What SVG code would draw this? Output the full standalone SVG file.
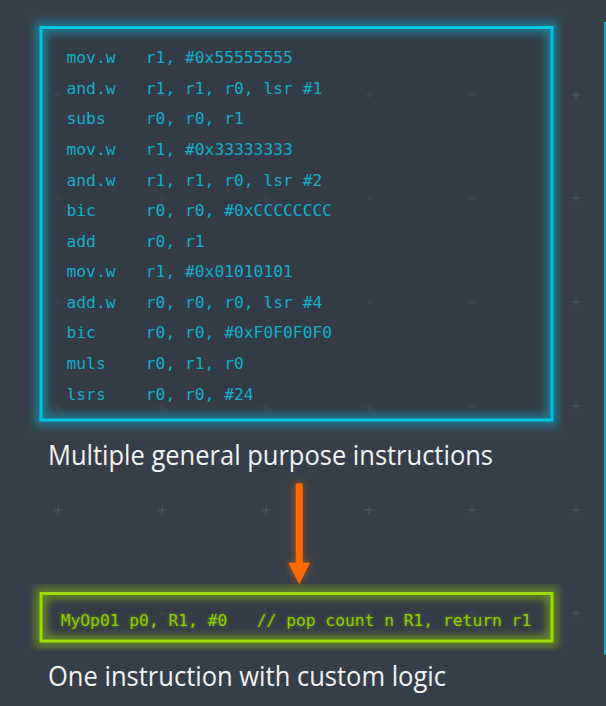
<svg xmlns="http://www.w3.org/2000/svg" width="606" height="706" viewBox="0 0 606 706">
  <defs>
    <filter id="glow" x="-20%" y="-20%" width="140%" height="140%">
      <feGaussianBlur stdDeviation="4"/>
    </filter>
    <filter id="soft" x="-10%" y="-10%" width="120%" height="120%">
      <feGaussianBlur stdDeviation="3"/>
    </filter>
    <filter id="tglow" x="-5%" y="-50%" width="110%" height="200%">
      <feGaussianBlur stdDeviation="1.5"/>
    </filter>
    <path id="plus" d="M-4,0H4M0,-4V4" stroke="#4a545f" stroke-width="1.3" fill="none"/>
  </defs>
  <style>
    .code { font-family: "DejaVu Sans Mono", "Liberation Mono", monospace; font-size: 16.3px; fill: #14aeca; }
    .gcode { font-family: "DejaVu Sans Mono", "Liberation Mono", monospace; font-size: 16.3px; fill: #8ccc00; }
    .cap { font-family: "Open Sans", "Lato", sans-serif; font-size: 27px; fill: #f2f2f2; }
  </style>
  <rect width="606" height="706" fill="#363f49"/>
  <line x1="605" y1="22" x2="605" y2="655" stroke="#12a9c6" stroke-width="2"/>

  <g id="grid">
    <use href="#plus" x="58" y="95"/><use href="#plus" x="162" y="95"/><use href="#plus" x="266" y="95"/><use href="#plus" x="369" y="95"/><use href="#plus" x="472" y="95"/><use href="#plus" x="576" y="95"/>
    <use href="#plus" x="58" y="198"/><use href="#plus" x="162" y="198"/><use href="#plus" x="266" y="198"/><use href="#plus" x="369" y="198"/><use href="#plus" x="472" y="198"/><use href="#plus" x="576" y="198"/>
    <use href="#plus" x="58" y="302"/><use href="#plus" x="162" y="302"/><use href="#plus" x="266" y="302"/><use href="#plus" x="369" y="302"/><use href="#plus" x="472" y="302"/><use href="#plus" x="576" y="302"/>
    <use href="#plus" x="58" y="406"/><use href="#plus" x="162" y="406"/><use href="#plus" x="266" y="406"/><use href="#plus" x="369" y="406"/><use href="#plus" x="472" y="406"/><use href="#plus" x="576" y="406"/>
    <use href="#plus" x="58" y="510"/><use href="#plus" x="162" y="510"/><use href="#plus" x="266" y="510"/><use href="#plus" x="369" y="510"/><use href="#plus" x="472" y="510"/><use href="#plus" x="576" y="510"/>
    <use href="#plus" x="58" y="613"/><use href="#plus" x="162" y="613"/><use href="#plus" x="266" y="613"/><use href="#plus" x="369" y="613"/><use href="#plus" x="472" y="613"/><use href="#plus" x="576" y="613"/>
  </g>

  <g id="general-box">
    <rect x="41" y="27.5" width="511" height="392.5" fill="none" stroke="#00c4e4" stroke-width="12" opacity="0.45" filter="url(#glow)"/>
    <rect x="52" y="38" width="490" height="372" fill="#323a44" opacity="0.6" filter="url(#soft)"/>
    <rect x="41" y="27.5" width="511" height="392.5" fill="none" stroke="#00c4e4" stroke-width="3"/>
    <g class="code">
      <text x="66.5" y="63.3">mov.w</text><text x="145.8" y="63.3">r1, #0x55555555</text>
      <text x="66.5" y="93.9">and.w</text><text x="145.8" y="93.9">r1, r1, r0, lsr #1</text>
      <text x="66.5" y="124.4">subs</text><text x="145.8" y="124.4">r0, r0, r1</text>
      <text x="66.5" y="155">mov.w</text><text x="145.8" y="155">r1, #0x33333333</text>
      <text x="66.5" y="185.6">and.w</text><text x="145.8" y="185.6">r1, r1, r0, lsr #2</text>
      <text x="66.5" y="216.2">bic</text><text x="145.8" y="216.2">r0, r0, #0xCCCCCCCC</text>
      <text x="66.5" y="246.7">add</text><text x="145.8" y="246.7">r0, r1</text>
      <text x="66.5" y="277.3">mov.w</text><text x="145.8" y="277.3">r1, #0x01010101</text>
      <text x="66.5" y="307.9">add.w</text><text x="145.8" y="307.9">r0, r0, r0, lsr #4</text>
      <text x="66.5" y="338.4">bic</text><text x="145.8" y="338.4">r0, r0, #0xF0F0F0F0</text>
      <text x="66.5" y="369">muls</text><text x="145.8" y="369">r0, r1, r0</text>
      <text x="66.5" y="399.6">lsrs</text><text x="145.8" y="399.6">r0, r0, #24</text>
    </g>
  </g>

  <g id="label-general">
    <text class="cap" x="48" y="465" textLength="445" lengthAdjust="spacingAndGlyphs">Multiple general purpose instructions</text>
  </g>

  <g id="connectors">
    <g filter="url(#glow)" opacity="0.55">
      <rect x="295.7" y="483.3" width="7" height="82" fill="#ff6a00"/>
      <polygon points="288.3,562.7 310,562.7 299.2,584.3" fill="#ff6a00"/>
    </g>
    <rect x="295.7" y="483.3" width="7" height="82" fill="#ff6a00"/>
    <polygon points="288.3,562.7 310,562.7 299.2,584.3" fill="#ff6a00"/>
  </g>

  <g id="custom-box">
    <rect x="41" y="593.5" width="511" height="47.5" fill="none" stroke="#99dd00" stroke-width="12" opacity="0.45" filter="url(#glow)"/>
    <rect x="52" y="603" width="490" height="28" fill="#323a44" opacity="0.6" filter="url(#soft)"/>
    <rect x="41" y="593.5" width="511" height="47.5" fill="none" stroke="#99dd00" stroke-width="3"/>
    <text class="gcode" x="60.7" y="625.8" opacity="0.6" filter="url(#tglow)" xml:space="preserve">MyOp01 p0, R1, #0   // pop count n R1, return r1</text>
    <text class="gcode" x="60.7" y="625.8" xml:space="preserve">MyOp01 p0, R1, #0   // pop count n R1, return r1</text>
  </g>

  <g id="label-custom">
    <text class="cap" x="48" y="686" textLength="398" lengthAdjust="spacingAndGlyphs">One instruction with custom logic</text>
  </g>
</svg>
